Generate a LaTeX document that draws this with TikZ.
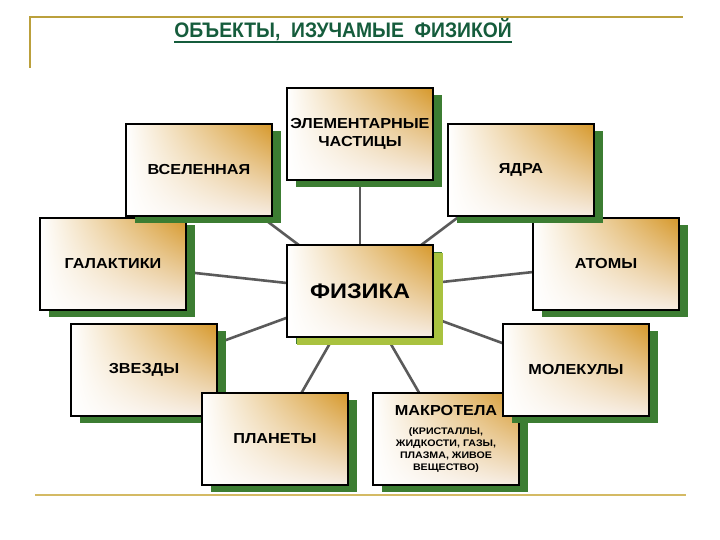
\documentclass[tikz,border=0pt]{standalone}
\usepackage{fontspec}
\setmainfont{Liberation Sans}
\newfontfamily\boxfont{Liberation Sans}[FakeStretch=1.12]
\newfontfamily\titlefont{Liberation Sans}[FakeStretch=0.92]
\usetikzlibrary{shadows,backgrounds,shadings}
\definecolor{gold}{HTML}{D6982A}
\definecolor{goldlow}{HTML}{F6ECE2}
\definecolor{shgreen}{HTML}{3C7D32}
\definecolor{shlime}{HTML}{A9C23F}
\definecolor{conn}{HTML}{5A5A5A}
\definecolor{titlegreen}{HTML}{155C3C}
\definecolor{topline}{HTML}{BBA03C}
\definecolor{botline}{HTML}{D4BA64}
\newcommand\bigtxt{\fontsize{14.5}{18}\selectfont}
\tikzset{
  objbox/.style={rectangle, minimum width=146pt, minimum height=92pt, inner sep=2pt,
    draw=black, line width=1.1pt,
    upper left=white, lower left=white, upper right=gold, lower right=goldlow,
    align=center,
    font=\boxfont\bfseries\fontsize{14.5}{18}\selectfont,
    general shadow={shadow xshift=9pt, shadow yshift=-7pt, fill=shgreen}},
  physbox/.style={objbox, font=\boxfont\bfseries\fontsize{21}{24}\selectfont,
    general shadow={shadow xshift=10pt, shadow yshift=-8pt, fill=shlime}},
  connector/.style={draw=conn, line width=2.6pt}
}
\begin{document}
\begin{tikzpicture}[x=1pt,y=-1pt]
\useasboundingbox (0,0) rectangle (720,540);
% frame lines
\coordinate (tl) at (30,17);
\coordinate (tr) at (683,17);
\coordinate (tlb) at (30,68);
\coordinate (bl) at (35,495);
\coordinate (br) at (686,495);
\draw[topline, line width=2pt] (tlb) -- (tl) -- (tr);
\draw[botline, line width=2.5pt] (bl) -- (br);
% title
\node[anchor=base, text=titlegreen, font=\titlefont\bfseries\fontsize{21}{24}\selectfont, inner sep=0pt] (title) at (343,38) {ОБЪЕКТЫ,\ \ ИЗУЧАМЫЕ\ \ ФИЗИКОЙ};
\draw[titlegreen, line width=1.6pt] ([yshift=-4pt]title.base west) -- ([yshift=-4pt]title.base east);
% boxes
\node[objbox] (elem) at (360,134) {ЭЛЕМЕНТАРНЫЕ\\ЧАСТИЦЫ};
\node[objbox] (gal) at (113,264) {ГАЛАКТИКИ};
\node[objbox] (vsel) at (199,170) {ВСЕЛЕННАЯ};
\node[objbox] (atom) at (606,264) {АТОМЫ};
\node[objbox] (yadra) at (521,170) {ЯДРА};
\node[objbox] (zvezd) at (144,370) {ЗВЕЗДЫ};
\node[objbox, font=\boxfont\bfseries\fontsize{9.5}{11.8}\selectfont] (makro) at (446,439) {{\bigtxt МАКРОТЕЛА}\\[7pt](КРИСТАЛЛЫ,\\ЖИДКОСТИ, ГАЗЫ,\\ПЛАЗМА, ЖИВОЕ\\ВЕЩЕСТВО)};
\node[objbox] (plan) at (275,439) {ПЛАНЕТЫ};
\node[objbox] (molek) at (576,370) {МОЛЕКУЛЫ};
\node[physbox] (phys) at (360,291) {ФИЗИКА};
% connectors
\begin{pgfonlayer}{background}
\foreach \n in {elem,vsel,yadra,gal,atom,zvezd,molek,plan,makro}
  \draw[connector] (phys.center) -- (\n.center);
\end{pgfonlayer}
\end{tikzpicture}
\end{document}
